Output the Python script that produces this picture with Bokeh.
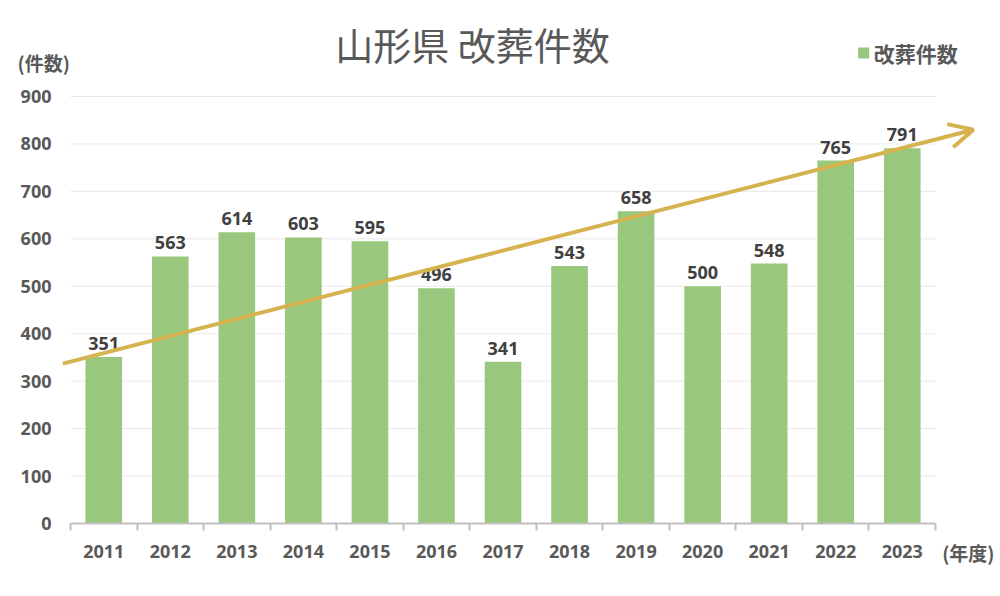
from bokeh.plotting import figure
from bokeh.models import (ColumnDataSource, Range1d, FixedTicker, Arrow, OpenHead, Label)
from bokeh.core.properties import value
from bokeh.embed import file_html
from bokeh.resources import INLINE

# ---- data ----
years = ["2011", "2012", "2013", "2014", "2015", "2016", "2017",
         "2018", "2019", "2020", "2021", "2022", "2023"]
counts = [351, 563, 614, 603, 595, 496, 341, 543, 658, 500, 548, 765, 791]
y_ticks = [0, 100, 200, 300, 400, 500, 600, 700, 800, 900]
title_text = "山形県 改葬件数"
series_name = "改葬件数"
y_unit = "(件数)"
x_unit = "(年度)"
# trend arrow (data coordinates: category index, count)
trend_start = (-0.115, 337)
trend_end = (13.57, 830)

# ---- styles ----
BAR = "#98c77d"
GOLD = "#d6b34f"
TXT = "#595959"
VAL = "#404040"
AXIS = "#bfbfbf"
GRID = "#e9e9e9"
NUM_FONT = "Open Sans"
CJK_FONT = "Noto Sans CJK JP"

n = len(years)
xpos = [i + 0.5 for i in range(n)]
src = ColumnDataSource(dict(x=xpos, y=counts, label=[str(c) for c in counts]))

W, H = 1000, 590
PX_X = 66.54      # px per category
PX_Y = 0.4744     # px per count
X0, Y0 = 70, 523  # screen position of the plot origin

p = figure(width=W, height=H, output_backend="svg", toolbar_location=None,
           x_range=Range1d(-X0 / PX_X, (W - X0) / PX_X),
           y_range=Range1d(-(H - Y0) / PX_Y, Y0 / PX_Y),
           min_border=0)
p.outline_line_color = None
p.background_fill_color = "white"
p.border_fill_color = "white"
p.xgrid.visible = False
p.ygrid.visible = False

# horizontal grid lines
gy = [t for t in y_ticks if t > 0]
p.segment(x0=[0] * len(gy), x1=[n] * len(gy), y0=gy, y1=gy,
          line_color=GRID, line_width=1)

p.vbar(x="x", top="y", width=0.55, source=src, fill_color=BAR, line_color=None)

p.text(x="x", y="y", text="label", source=src, y_offset=-7,
       text_align="center", text_baseline="bottom",
       text_font=value(NUM_FONT), text_font_style="bold",
       text_font_size="18px", text_color=VAL)

# x axis
xa = p.xaxis[0]
xa.fixed_location = 0
xa.bounds = (0, n)
xa.ticker = FixedTicker(ticks=xpos, minor_ticks=list(range(n + 1)))
xa.major_label_overrides = {x: y for x, y in zip(xpos, years)}
xa.major_tick_out = 0
xa.major_tick_in = 0
xa.minor_tick_out = 7
xa.minor_tick_in = 0
xa.minor_tick_line_color = AXIS
xa.minor_tick_line_width = 2
xa.axis_line_color = AXIS
xa.axis_line_width = 2
xa.major_label_standoff = 14
xa.major_label_text_font = NUM_FONT
xa.major_label_text_font_style = "bold"
xa.major_label_text_font_size = "18px"
xa.major_label_text_color = TXT

# y axis
ya = p.yaxis[0]
ya.fixed_location = 0
ya.bounds = (0, 900)
ya.ticker = FixedTicker(ticks=y_ticks)
ya.axis_line_color = None
ya.major_tick_line_color = None
ya.minor_tick_line_color = None
ya.major_tick_out = 0
ya.major_label_standoff = 19
ya.major_label_text_font = NUM_FONT
ya.major_label_text_font_style = "bold"
ya.major_label_text_font_size = "18px"
ya.major_label_text_color = TXT

# trend arrow
p.add_layout(Arrow(end=OpenHead(size=24, line_color=GOLD, line_width=4),
                   x_start=trend_start[0], y_start=trend_start[1],
                   x_end=trend_end[0], y_end=trend_end[1],
                   line_color=GOLD, line_width=4))

# title
p.add_layout(Label(x=6.04, y=1012, text=title_text, text_align="center",
                   text_baseline="middle", text_font=CJK_FONT,
                   text_font_size="38px", text_color=TXT))

# legend
p.scatter(x=[11.92], y=[992], marker="square", size=11, fill_color=BAR, line_color=None)
p.add_layout(Label(x=12.07, y=991, text=series_name, text_align="left",
                   text_baseline="middle", text_font=CJK_FONT, text_font_style="bold",
                   text_font_size="21px", text_color=TXT))

# unit labels
p.add_layout(Label(x=-0.797, y=972, text=y_unit, text_align="left",
                   text_baseline="middle", text_font=CJK_FONT, text_font_style="bold",
                   text_font_size="19px", text_color=TXT))
p.add_layout(Label(x=13.1, y=-61, text=x_unit, text_align="left",
                   text_baseline="middle", text_font=CJK_FONT, text_font_style="bold",
                   text_font_size="19px", text_color=TXT))

open("out.html", "w").write(file_html(p, INLINE))
